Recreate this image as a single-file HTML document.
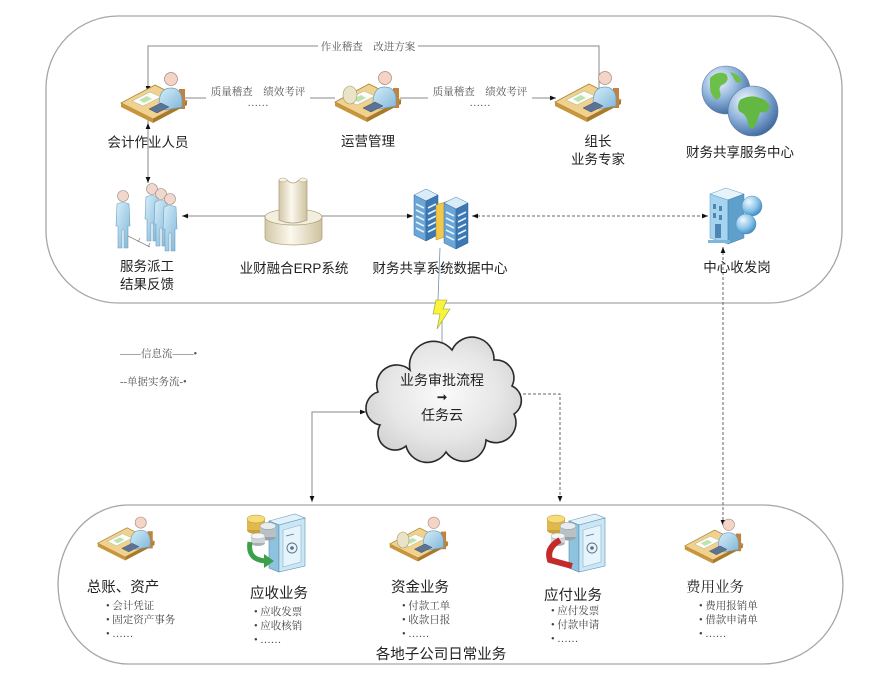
<!DOCTYPE html>
<html><head><meta charset="utf-8"><style>
html,body{margin:0;padding:0;background:#fff;}
svg{display:block;}
.lb{font-family:"Liberation Sans","Noto Sans CJK SC",sans-serif;font-size:13.5px;fill:#222;text-anchor:middle;}
.bl{font-family:"Liberation Sans","Noto Sans CJK SC",sans-serif;font-size:14.5px;fill:#222;text-anchor:middle;}
.sm{font-family:"Liberation Serif","Noto Serif CJK SC",serif;font-size:10.5px;fill:#555;}
.bu{font-family:"Liberation Serif","Noto Serif CJK SC",serif;font-size:10.5px;fill:#444;}
</style></head><body>
<svg width="875" height="673" viewBox="0 0 875 673" xmlns="http://www.w3.org/2000/svg">
<defs>
<marker id="ah" viewBox="0 0 10 10" refX="10" refY="5" markerWidth="6" markerHeight="6" orient="auto-start-reverse"><path d="M0,1 L10,5 L0,9 z" fill="#111"/></marker>
<linearGradient id="pb" x1="0" y1="0" x2="1" y2="1"><stop offset="0" stop-color="#d6eef9"/><stop offset="1" stop-color="#80b6d8"/></linearGradient>
<linearGradient id="col" x1="0" y1="0" x2="1" y2="0"><stop offset="0" stop-color="#d3c7a6"/><stop offset="0.45" stop-color="#fbf8ee"/><stop offset="1" stop-color="#cfc29f"/></linearGradient>
<radialGradient id="cl" cx="0.5" cy="0.45" r="0.6"><stop offset="0" stop-color="#fafafa"/><stop offset="0.6" stop-color="#e6e6e6"/><stop offset="1" stop-color="#cfcfcf"/></radialGradient>
<radialGradient id="gl" cx="0.35" cy="0.3" r="0.75"><stop offset="0" stop-color="#f2f8ff"/><stop offset="0.5" stop-color="#93b6dc"/><stop offset="1" stop-color="#3d679f"/></radialGradient>
<radialGradient id="gb" cx="0.35" cy="0.3" r="0.75"><stop offset="0" stop-color="#eef8ff"/><stop offset="0.6" stop-color="#86c2e6"/><stop offset="1" stop-color="#3f86bf"/></radialGradient>
<linearGradient id="bd" x1="0" y1="0" x2="1" y2="1"><stop offset="0" stop-color="#cfe8f6"/><stop offset="1" stop-color="#6fb0d8"/></linearGradient>

<g id="desk">
  <polygon points="2,34 36,16 68,32 34,50" fill="#f0d28e" stroke="#a8843c" stroke-width="0.8"/>
  <polygon points="2,34 34,50 34,54 2,38" fill="#c8963c"/>
  <polygon points="34,50 68,32 68,36 34,54" fill="#a97a2c"/>
  <polygon points="13,32 31,23 42,28 24,37" fill="#fdfdf8" stroke="#b9b9a0" stroke-width="0.6"/>
  <polygon points="20,31 28,27 33,30 25,34" fill="#bfe3b0"/>
  <rect x="60" y="20" width="6" height="20" fill="#c0823c"/>
  <path d="M40,36 C40,24 44,19 52,19 C60,19 63,25 63,32 L63,38 L46,41 Z" fill="url(#pb)" stroke="#6d9fbf" stroke-width="0.7"/>
  <circle cx="52" cy="10" r="6.5" fill="#f3d4c6" stroke="#a88878" stroke-width="0.7"/>
  <polygon points="30,40 42,34 50,38 38,44" fill="#5d7394" stroke="#3e4f6a" stroke-width="0.5"/>
</g>
<g id="man">
  <circle cx="9" cy="6" r="5.5" fill="#f2d8cc" stroke="#9a8a80" stroke-width="0.6"/>
  <path d="M3,14 Q9,11 15,14 L16,36 L14,36 L14,58 L10,58 L10,40 L8,40 L8,58 L4,58 L4,36 L2,36 Z" fill="url(#pb)" stroke="#6f9fbf" stroke-width="0.6"/>
</g>
<g id="tower">
  <polygon points="0,8 12,2 24,8 12,14" fill="#d8ebf8" stroke="#4a80b0" stroke-width="0.5"/>
  <polygon points="0,8 12,14 12,54 0,48" fill="#6aa6d6" stroke="#3a6e9e" stroke-width="0.5"/>
  <polygon points="12,14 24,8 24,48 12,54" fill="#3c78b4" stroke="#2e5e8e" stroke-width="0.5"/>
  <g stroke="#e8f3fb" stroke-width="1.6">
    <line x1="2" y1="17" x2="10" y2="21"/><line x1="2" y1="23" x2="10" y2="27"/><line x1="2" y1="29" x2="10" y2="33"/><line x1="2" y1="35" x2="10" y2="39"/><line x1="2" y1="41" x2="10" y2="45"/>
    <line x1="14" y1="21" x2="22" y2="17"/><line x1="14" y1="27" x2="22" y2="23"/><line x1="14" y1="33" x2="22" y2="29"/><line x1="14" y1="39" x2="22" y2="35"/><line x1="14" y1="45" x2="22" y2="41"/>
  </g>
</g>
<g id="safebox">
  <polygon points="24,9 50,2 60,6 34,13" fill="#e3f2fa" stroke="#6aa0c0" stroke-width="0.6"/>
  <polygon points="24,9 34,13 34,60 24,56" fill="#8ec3df" stroke="#5a8fb0" stroke-width="0.6"/>
  <polygon points="34,13 60,6 60,54 34,60" fill="#cbe6f4" stroke="#5a8fb0" stroke-width="0.6"/>
  <polygon points="38,18 56,13 56,50 38,55" fill="#e6f4fb" stroke="#8ab4cc" stroke-width="0.6"/>
  <circle cx="47" cy="36" r="5" fill="none" stroke="#5c6f86" stroke-width="0.9"/>
  <circle cx="47" cy="36" r="1.8" fill="#5c6f86"/>
  <line x1="41" y1="24" x2="49" y2="22" stroke="#5c6f86" stroke-width="0.8"/>
  <ellipse cx="11" cy="18" rx="9" ry="4" fill="#c9a23a"/>
  <rect x="2" y="7" width="18" height="11" fill="#dfb94c"/>
  <ellipse cx="11" cy="7" rx="9" ry="4" fill="#f6dc7a" stroke="#b8922e" stroke-width="0.5"/>
  <ellipse cx="23" cy="25" rx="8" ry="3.5" fill="#9aa3a8"/>
  <rect x="15" y="14" width="16" height="11" fill="#b9c1c6"/>
  <ellipse cx="23" cy="14" rx="8" ry="3.5" fill="#e6ecef" stroke="#8a9499" stroke-width="0.5"/>
  <ellipse cx="13" cy="31" rx="7" ry="3" fill="#a8b0b4"/>
  <rect x="6" y="24" width="14" height="7" fill="#cfd5d8"/>
  <ellipse cx="13" cy="24" rx="7" ry="3" fill="#f4f6f7" stroke="#9aa2a6" stroke-width="0.5"/>
</g>
</defs>

<!-- containers -->
<rect x="46" y="16" width="796" height="287" rx="72" ry="72" fill="none" stroke="#a6a6a6" stroke-width="1.3"/>
<path d="M128,505 H763 A80,79.5 0 0 1 763,664 H128 A70,79.5 0 0 1 128,505 Z" fill="none" stroke="#a6a6a6" stroke-width="1.3"/>

<!-- connectors -->
<g fill="none" stroke="#8a8a8a" stroke-width="1">
  <path d="M148,92 V46 H599 V100" marker-start="url(#ah)"/>
  <path d="M335,98 H172" marker-end="url(#ah)"/>
  <path d="M400,98 H556" marker-end="url(#ah)"/>
  <path d="M148,92 V123" />
  <path d="M148,123 V183" marker-start="url(#ah)" marker-end="url(#ah)"/>
  <path d="M182,216 H276" marker-start="url(#ah)" marker-end="url(#ah)"/>
  <path d="M310,216 H413" marker-start="url(#ah)" marker-end="url(#ah)"/>
  <path d="M366,412 H312 V502" marker-start="url(#ah)" marker-end="url(#ah)"/>
</g>
<g fill="none" stroke="#666" stroke-width="1" stroke-dasharray="3,2">
  <path d="M472,216 H708" marker-start="url(#ah)" marker-end="url(#ah)"/>
  <path d="M723,247 V526" marker-start="url(#ah)" marker-end="url(#ah)"/>
  <path d="M518,394 H560 V502" marker-end="url(#ah)"/>
</g>

<!-- connector labels -->
<rect x="318" y="40" width="100" height="12" fill="#fff"/>
<text class="sm" x="368" y="50" text-anchor="middle">作业稽查　改进方案</text>
<rect x="206" y="90" width="104" height="16" fill="#fff"/>
<text class="sm" x="258" y="95" text-anchor="middle">质量稽查　绩效考评</text>
<text class="sm" x="258" y="106" text-anchor="middle">……</text>
<rect x="428" y="90" width="104" height="16" fill="#fff"/>
<text class="sm" x="480" y="95" text-anchor="middle">质量稽查　绩效考评</text>
<text class="sm" x="480" y="106" text-anchor="middle">……</text>

<!-- top icons -->
<use href="#desk" transform="translate(119,69)"/>
<use href="#desk" transform="translate(333,68)"/>
<use href="#desk" transform="translate(553,68)"/>
<!-- lamp on ops desk -->
<ellipse cx="350" cy="95" rx="7" ry="9" fill="#e9e3c7" stroke="#a89a60" stroke-width="0.6"/>

<!-- globes -->
<circle cx="726" cy="90" r="24" fill="url(#gl)" stroke="#5677a0" stroke-width="0.6"/>
<path d="M710,78 q8,-8 16,-4 q4,6 -2,10 q-6,2 -4,8 q2,6 -4,8 q-6,-6 -6,-12 z M730,72 q8,2 12,8 q-2,4 -6,2 z" fill="#6cc04a"/>
<circle cx="753" cy="111" r="25" fill="url(#gl)" stroke="#5677a0" stroke-width="0.6"/>
<path d="M740,100 q10,-6 20,-2 q8,2 10,10 q-4,6 -10,4 q-2,8 -6,16 q-6,2 -6,-6 q-2,-8 -8,-10 q-4,-4 0,-12 z" fill="#62b842"/>

<!-- people -->
<use href="#man" transform="translate(114,190)"/>
<use href="#man" transform="translate(143,183)"/>
<use href="#man" transform="translate(152,188)"/>
<use href="#man" transform="translate(161,193)"/>
<path d="M128,236 L150,247 M140,238 L138,242 M150,243 L148,247" stroke="#8a8a8a" stroke-width="0.8" fill="none"/>

<!-- ERP -->
<path d="M265,217 L265,238 A28.5,7 0 0 0 322,238 L322,217 Z" fill="url(#col)" stroke="#a89c78" stroke-width="0.7"/>
<ellipse cx="293.5" cy="217" rx="28.5" ry="8" fill="#f3eedd" stroke="#a89c78" stroke-width="0.7"/>
<path d="M279,180 L287,180 Q293,186 299,180 L307,180 L307,220 Q293,226 279,220 Z" fill="url(#col)" stroke="#a89c78" stroke-width="0.7"/>
<ellipse cx="283" cy="180" rx="4" ry="2" fill="#f6f2e4" stroke="#a89c78" stroke-width="0.5"/>
<ellipse cx="303" cy="180" rx="4" ry="2" fill="#f6f2e4" stroke="#a89c78" stroke-width="0.5"/>

<!-- servers -->
<use href="#tower" transform="translate(414,187)"/>
<polygon points="436,205 448,201 448,236 436,240" fill="#f2c84a" stroke="#b08a20" stroke-width="0.5"/>
<use href="#tower" transform="translate(444,195)"/>

<!-- building -->
<polygon points="710,194 726,188 744,194 728,200" fill="#e6f3fb" stroke="#5a9cc8" stroke-width="0.5"/>
<polygon points="710,194 728,200 728,244 710,238" fill="#a6d4ee" stroke="#5a9cc8" stroke-width="0.5"/>
<polygon points="728,200 744,194 744,238 728,244" fill="#5f9fcb" stroke="#3f7eaa" stroke-width="0.5"/>
<g fill="#4d86b5"><rect x="713" y="204" width="3" height="5"/><rect x="719" y="206" width="3" height="5"/><rect x="713" y="213" width="3" height="5"/><rect x="719" y="215" width="3" height="5"/><rect x="715" y="224" width="6" height="14"/></g>
<rect x="708" y="240" width="22" height="3" fill="#7fb6da"/>
<circle cx="752" cy="206" r="10" fill="url(#gb)" stroke="#4f8fbf" stroke-width="0.5"/>
<circle cx="746" cy="224" r="10" fill="url(#gb)" stroke="#4f8fbf" stroke-width="0.5"/>

<!-- top labels -->
<text class="lb" x="148" y="147">会计作业人员</text>
<text class="lb" x="368" y="146">运营管理</text>
<text class="lb" x="598" y="146">组长</text>
<text class="lb" x="598" y="164">业务专家</text>
<text class="lb" x="740" y="157">财务共享服务中心</text>
<text class="lb" x="147" y="271">服务派工</text>
<text class="lb" x="147" y="289">结果反馈</text>
<text class="lb" x="294" y="273">业财融合ERP系统</text>
<text class="lb" x="440" y="273">财务共享系统数据中心</text>
<text class="lb" x="737" y="272">中心收发岗</text>

<!-- lightning -->
<path d="M440,248 L438,300 M442,320 L442,345" stroke="#6f8fae" stroke-width="0.8" fill="none"/>
<polygon points="436,300 447,300 443,309 450,309 437,329 440,314 433,314" fill="#f8f43a" stroke="#9a9a40" stroke-width="0.6"/>

<!-- legend -->
<text class="sm" x="120" y="357">——信息流——•</text>
<text class="sm" x="120" y="385">--单据实务流-•</text>

<!-- cloud -->
<path d="M380,425 A17,17 0 0 1 378,392 A20,20 0 0 1 410,370 A24,24 0 0 1 452,350 A22,22 0 0 1 494,360 A18,18 0 0 1 512,386 A16,16 0 0 1 514,414 A20,20 0 0 1 486,440 A22,22 0 0 1 446,452 A22,22 0 0 1 406,446 A17,17 0 0 1 380,425 Z" fill="url(#cl)" stroke="#2a2a2a" stroke-width="1.6"/>
<text class="bl" x="442" y="385" style="font-size:14px">业务审批流程</text>
<text class="bl" x="442" y="401" style="font-size:12px;font-weight:bold">➞</text>
<text class="bl" x="442" y="420" style="font-size:14px">任务云</text>

<!-- bottom icons -->
<use href="#desk" transform="translate(96,514) scale(0.86)"/>
<use href="#safebox" transform="translate(245,512)"/>
<path d="M250,542 Q247,560 266,561" fill="none" stroke="#3aa04a" stroke-width="5"/>
<polygon points="264,554 274,561 264,568" fill="#3aa04a"/>
<use href="#desk" transform="translate(388,514) scale(0.88)"/>
<ellipse cx="403" cy="540" rx="6" ry="8" fill="#e9e3c7" stroke="#a89a60" stroke-width="0.6"/>
<use href="#safebox" transform="translate(545,512)"/>
<path d="M560,540 Q546,548 550,560 L572,566" fill="none" stroke="#c42a2a" stroke-width="6"/>
<use href="#desk" transform="translate(683,516) scale(0.88)"/>

<!-- bottom labels -->
<text class="bl" x="123" y="592">总账、资产</text>
<text class="bu" x="106" y="609">• 会计凭证</text>
<text class="bu" x="106" y="623">• 固定资产事务</text>
<text class="bu" x="106" y="637">• ……</text>

<text class="bl" x="279" y="598">应收业务</text>
<text class="bu" x="254" y="615">• 应收发票</text>
<text class="bu" x="254" y="629">• 应收核销</text>
<text class="bu" x="254" y="643">• ……</text>

<text class="bl" x="420" y="592">资金业务</text>
<text class="bu" x="402" y="609">• 付款工单</text>
<text class="bu" x="402" y="623">• 收款日报</text>
<text class="bu" x="402" y="637">• ……</text>

<text class="bl" x="573" y="600">应付业务</text>
<text class="bu" x="551" y="614">• 应付发票</text>
<text class="bu" x="551" y="628">• 付款申请</text>
<text class="bu" x="551" y="642">• ……</text>

<text class="bl" x="715" y="592" style="font-family:'Liberation Serif','Noto Serif CJK SC',serif">费用业务</text>
<text class="bu" x="699" y="609">• 费用报销单</text>
<text class="bu" x="699" y="623">• 借款申请单</text>
<text class="bu" x="699" y="637">• ……</text>

<text class="bl" x="441" y="659">各地子公司日常业务</text>
</svg>
</body></html>
